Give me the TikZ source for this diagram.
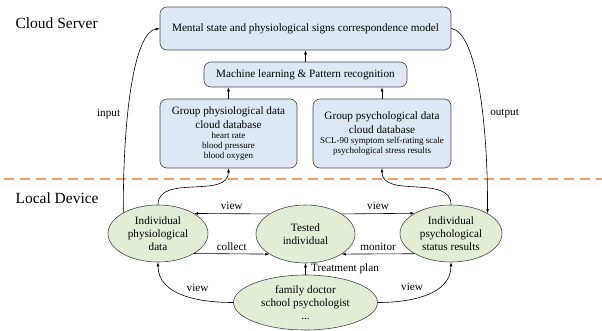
\documentclass[tikz,border=0pt]{standalone}
\usepackage{fontspec}
\setmainfont{Liberation Serif}
\usetikzlibrary{shapes.geometric}
\usetikzlibrary{arrows.meta}
\definecolor{cloudblue}{RGB}{220,232,245}
\definecolor{localgreen}{RGB}{226,237,214}
\definecolor{edgegray}{RGB}{70,70,70}
\definecolor{seporange}{RGB}{242,160,105}
\tikzstyle{cloudbox}=[draw=edgegray, fill=cloudblue, rounded corners=7pt, align=center, inner sep=0pt, line width=0.6pt]
\tikzstyle{localell}=[ellipse, draw=edgegray, fill=localgreen, align=center, inner sep=0pt, line width=0.6pt]
\tikzstyle{flow}=[-{Latex[length=4pt,width=3pt]}, line width=0.6pt, black]
\tikzstyle{zonelbl}=[anchor=west, font=\fontsize{15.5}{18}\selectfont]
\newcommand{\smalltxt}{\fontsize{9}{10}\selectfont}

\begin{document}
\begin{tikzpicture}[x=1pt, y=-1pt, font=\fontsize{11.2}{13}\selectfont]
\useasboundingbox (0,0) rectangle (602,330);
\node[zonelbl] (cloudlbl) at (12,23) {Cloud Server};
\node[zonelbl] (locallbl) at (12,198) {Local Device};
\draw[seporange, line width=1.3pt, dash pattern=on 10pt off 6pt] (4,179) -- (602,179);
\node[cloudbox, minimum width=291pt, minimum height=43pt] (model) at (305.5,28.5) {Mental state and physiological signs correspondence model};
\node[cloudbox, minimum width=203pt, minimum height=25pt] (mlpr) at (305.5,74.5) {Machine learning \& Pattern recognition};
\node[cloudbox, minimum width=137pt, minimum height=69pt] (grpphys) at (228.5,133.5) {Group physiological data\\[1pt]cloud database\\[-3pt]{\smalltxt heart rate}\\[-3pt]{\smalltxt blood pressure}\\[-3pt]{\smalltxt blood oxygen}};
\node[cloudbox, minimum width=138pt, minimum height=69pt] (grppsych) at (382,133.5) {Group psychological data\\[1pt]cloud database\\[-3pt]{\smalltxt SCL-90 symptom self-rating scale}\\[-3pt]{\smalltxt psychological stress results}};
\node[localell, minimum width=100pt, minimum height=57pt] (indphys) at (158,233.5) {Individual\\physiological\\data};
\node[localell, minimum width=99pt, minimum height=58pt] (tested) at (305.5,234) {Tested\\individual};
\node[localell, minimum width=102pt, minimum height=57pt] (indpsych) at (451,233.5) {Individual\\psychological\\status results};
\node[localell, minimum width=144pt, minimum height=55pt] (doctor) at (305.5,302.5) {family doctor\\school psychologist\\...};
% cloud side
\draw[flow] (grpphys.north) -- (grpphys.north |- mlpr.south);
\draw[flow] (grppsych.north) -- (grppsych.north |- mlpr.south);
\draw[flow] (mlpr) -- (model);
\draw[flow] (indphys.north) to[out=90, in=-90] (grpphys.south);
\draw[flow] (indpsych.north) to[out=90, in=-90] (grppsych.south);
\draw[flow] (indphys.149) .. controls (123,110) and (135,32) .. (model.west) node[left, pos=.36, xshift=-4pt] {input};
\draw[flow] (model.east) .. controls (476,32) and (488,120) .. (indpsych.29) node[right, pos=.62, xshift=4pt] {output};
% local side
\draw[flow] (tested.151) -- (indphys.29) node[midway, above] {view};
\draw[flow] (indphys.331) -- (tested.209) node[midway, above] {collect};
\draw[flow] (tested.29) -- (indpsych.151) node[midway, above] {view};
\draw[flow] (indpsych.209) -- (tested.331) node[midway, above] {monitor};
\draw[flow] (doctor) -- (tested) node[midway, right, xshift=2pt] {Treatment plan};
\draw[flow] (doctor.west) to[out=180, in=-90] node[midway, above right] {view} (indphys.south);
\draw[flow] (doctor.east) to[out=0, in=-90] node[midway, above left] {view} (indpsych.south);
\end{tikzpicture}
\end{document}
